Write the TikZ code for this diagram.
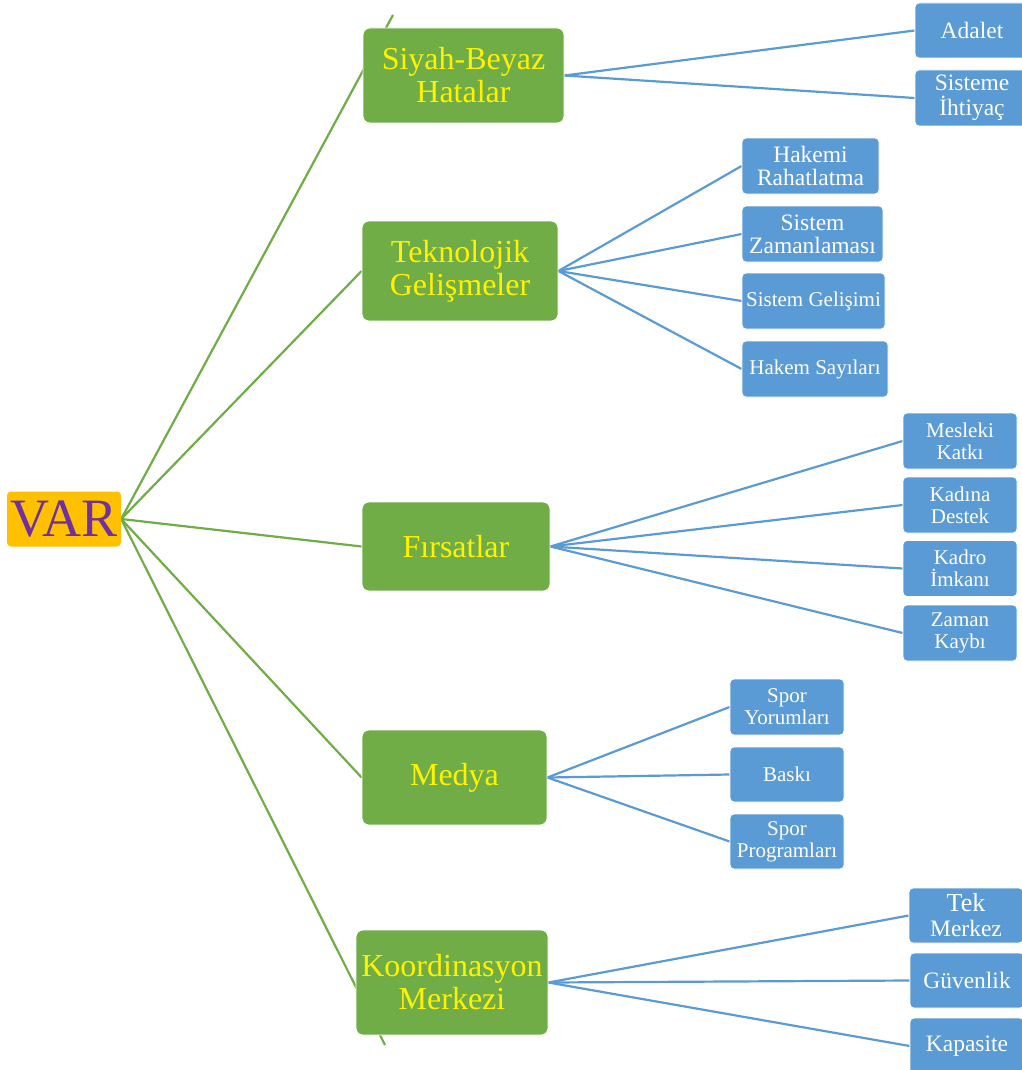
\documentclass[tikz,border=0pt]{standalone}
\usepackage{fontspec}
\setmainfont{Liberation Serif}
\usetikzlibrary{backgrounds}
\definecolor{varyellow}{HTML}{FFC000}
\definecolor{varpurple}{HTML}{7030A0}
\definecolor{brgreen}{HTML}{70AD47}
\definecolor{lfblue}{HTML}{5B9BD5}
\tikzstyle{root}=[rounded corners=4pt,fill=varyellow,text=varpurple,font=\fontsize{54}{54}\selectfont,minimum width=114pt,minimum height=55pt,inner sep=0pt]
\tikzstyle{branch}=[rounded corners=7pt,fill=brgreen,draw=white,line width=0.8pt,text=yellow,font=\fontsize{32}{33}\selectfont,align=center,inner sep=0pt]
\tikzstyle{leaf}=[rounded corners=4pt,fill=lfblue,draw=white,line width=0.8pt,text=white,font=\fontsize{21}{22}\selectfont,align=center,inner sep=0pt,minimum height=56pt]
\tikzstyle{bigleaf}=[leaf,font=\fontsize{23.5}{25}\selectfont,minimum width=114pt]
\tikzstyle{branchline}=[brgreen,line width=2.2pt]
\tikzstyle{leafline}=[lfblue,line width=2.2pt]

\begin{document}
\begin{tikzpicture}[x=1pt,y=-1pt]
    \useasboundingbox (0,0) rectangle (1021,1070);
    \node[root] (var) at (64,519) {VAR};

    \node[branch,minimum width=201pt,minimum height=95pt] (siyah) at (463.5,75.5) {Siyah-Beyaz\\Hatalar};
    \node[branch,minimum width=196pt,minimum height=100pt] (tekno) at (460,271) {Teknolojik\\Gelişmeler};
    \node[branch,minimum width=188pt,minimum height=89pt] (firsat) at (456,546.5) {Fırsatlar};
    \node[branch,minimum width=185pt,minimum height=95pt] (medya) at (454.5,777.5) {Medya};
    \node[branch,minimum width=192pt,minimum height=105pt] (koord) at (452,982.5) {Koordinasyon\\Merkezi};
    \coordinate (siyahend) at (393,15);
    \coordinate (koordend) at (385,1045);

    \node[bigleaf,minimum height=55pt] (adalet) at (972,30.5) {Adalet};
    \node[bigleaf] (ihtiyac) at (972,98) {Sisteme\\İhtiyaç};

    \node[leaf,minimum width=137pt,font=\fontsize{23.5}{23}\selectfont] (hakemi) at (810.5,166) {Hakemi\\Rahatlatma};
    \node[leaf,minimum width=141pt,font=\fontsize{23.5}{23}\selectfont] (zaman) at (812.5,234) {Sistem\\Zamanlaması};
    \node[leaf,minimum width=143pt] (gelisim) at (813.5,301) {Sistem Gelişimi};
    \node[leaf,minimum width=146pt] (sayi) at (815,369) {Hakem Sayıları};

    \node[leaf,minimum width=114pt] (mesleki) at (960,441) {Mesleki\\Katkı};
    \node[leaf,minimum width=114pt] (kadina) at (960,505) {Kadına\\Destek};
    \node[leaf,minimum width=114pt] (kadro) at (960,568.5) {Kadro\\İmkanı};
    \node[leaf,minimum width=114pt] (kayip) at (960,633) {Zaman\\Kaybı};

    \node[leaf,minimum width=114pt] (yorum) at (787,707) {Spor\\Yorumları};
    \node[leaf,minimum width=114pt,minimum height=55pt] (baski) at (787,774.5) {Baskı};
    \node[leaf,minimum width=114pt,minimum height=55pt] (program) at (787,841.5) {Spor\\Programları};

    \node[bigleaf,minimum height=55pt] (tek) at (966,915.5) {{\fontsize{26}{26}\selectfont Tek}\\Merkez};
    \node[bigleaf,minimum height=55pt] (guven) at (967,980.5) {Güvenlik};
    \node[bigleaf] (kapasite) at (967,1046) {Kapasite};

    \begin{scope}[on background layer]
    \foreach \to in {siyahend,tekno.west,firsat.west,medya.west,koordend}
    \draw[branchline] (var.east) -- (\to);
    \foreach \from/\to in {siyah/adalet,siyah/ihtiyac,tekno/hakemi,tekno/zaman,tekno/gelisim,tekno/sayi,firsat/mesleki,firsat/kadina,firsat/kadro,firsat/kayip,medya/yorum,medya/baski,medya/program,koord/tek,koord/guven,koord/kapasite}
    \draw[leafline] (\from.east) -- (\to.west);
    \end{scope}
\end{tikzpicture}
\end{document}
